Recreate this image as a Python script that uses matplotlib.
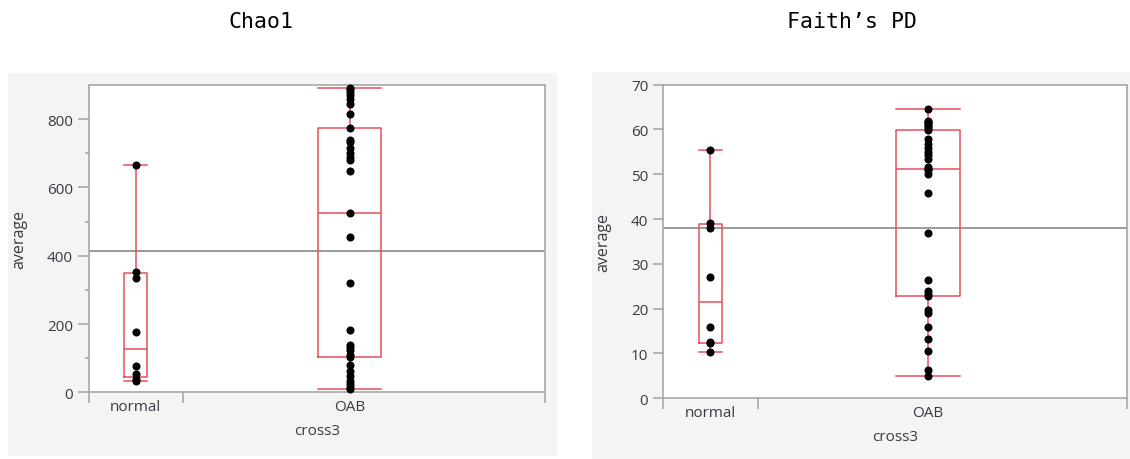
import numpy as np
import matplotlib
matplotlib.use('Agg')
import matplotlib.pyplot as plt
from matplotlib.patches import Rectangle

# 数据
groups = ['normal', 'OAB']
group_sizes = [8, 31]

chao1_normal = [665, 353, 334, 176, 76, 54, 40, 34]
chao1_oab = [892, 887, 880, 870, 858, 843, 815, 775,
             740, 733, 715, 700, 690, 680, 649,
             525,
             454, 319, 182, 140, 133, 125, 110, 102,
             80, 63, 49, 34, 24, 15, 10]
chao1_mean = 415

faith_normal = [55.5, 39.1, 38.0, 27.0, 16.0, 12.5, 12.3, 10.3]
faith_oab = [64.5, 62.0, 61.7, 61.4, 61.1, 60.8, 60.3, 59.8,
             57.9, 56.8, 55.9, 55.0, 54.2, 53.5, 51.6,
             51.2,
             51.0, 50.1, 45.8, 36.9, 26.3, 24.0, 23.3, 22.8,
             19.8, 19.1, 15.9, 13.2, 10.6, 6.3, 5.0]
faith_mean = 38.0

plt.rcParams['font.family'] = ['Open Sans', 'DejaVu Sans']

BOX_RED = '#e8505f'
FRAME = '#a8a8a8'
PANEL = '#f4f4f4'
TEXT = '#3a3a44'


def box_stats(values):
    """按 (n+1)p 分位数计算箱线图统计量"""
    v = np.asarray(values, dtype=float)
    q1, med, q3 = np.percentile(v, [25, 50, 75], method='weibull')
    iqr = q3 - q1
    lo = v[v >= q1 - 1.5 * iqr].min()
    hi = v[v <= q3 + 1.5 * iqr].max()
    return dict(med=med, q1=q1, q3=q3, whislo=lo, whishi=hi, fliers=[])


def draw_panel(ax, data, mean, ylim, major, minor, ticklen):
    edges = np.concatenate([[0], np.cumsum(group_sizes)])
    centers = [4, 22.3]
    widths = [1.95, 5.4]
    ax.axhline(mean, color='#9a9a9a', lw=1.4, zorder=1)
    stats = [box_stats(d) for d in data]
    ax.bxp(stats, positions=centers, widths=widths, capwidths=widths,
           showfliers=False, manage_ticks=False,
           boxprops=dict(color=BOX_RED, lw=1.1),
           whiskerprops=dict(color=BOX_RED, lw=1.1),
           capprops=dict(color=BOX_RED, lw=1.1),
           medianprops=dict(color=BOX_RED, lw=1.1))
    for c, d in zip(centers, data):
        ax.plot(np.full(len(d), c), d, 'o', color='black', ms=4.8, zorder=4, clip_on=False)
    ax.set_xlim(edges[0], edges[-1])
    ax.set_ylim(*ylim)
    ax.set_xticks(edges)
    ax.set_xticklabels([])
    ax.tick_params(axis='x', which='major', length=8, color=FRAME, width=1.2)
    ax.set_xticks(centers, minor=True)
    ax.set_xticklabels(groups, minor=True)
    ax.tick_params(axis='x', which='minor', length=0, pad=5, labelsize=11, labelcolor=TEXT)
    ax.set_yticks(major)
    if minor is not None:
        ax.set_yticks(minor, minor=True)
    ax.tick_params(axis='y', which='major', length=ticklen, color=FRAME, width=1.2,
                   labelsize=11, labelcolor=TEXT)
    ax.tick_params(axis='y', which='minor', length=3, color=FRAME, width=1.2)
    for s in ax.spines.values():
        s.set_color(FRAME)
        s.set_linewidth(1.2)
    ax.set_ylabel('average', fontsize=11.5, color=TEXT)
    ax.set_xlabel('cross3', fontsize=11, color=TEXT, labelpad=6)


fig = plt.figure(figsize=(11.3, 4.6), dpi=100)
fig.patches.append(Rectangle((0.0071, 0.0065), 0.4858, 0.8326, transform=fig.transFigure,
                             facecolor=PANEL, edgecolor='none', zorder=-10))
fig.patches.append(Rectangle((0.5239, 0.0), 0.4761, 0.841, transform=fig.transFigure,
                             facecolor=PANEL, edgecolor='none', zorder=-10))

ax1 = fig.add_axes([0.0788, 0.145, 0.4035, 0.668])
draw_panel(ax1, [chao1_normal, chao1_oab], chao1_mean, (0, 900),
           [0, 200, 400, 600, 800], [100, 300, 500, 700], 8)
ax1.yaxis.set_label_coords(-0.135, 0.5)

ax2 = fig.add_axes([0.5865, 0.132, 0.4106, 0.6817])
draw_panel(ax2, [faith_normal, faith_oab], faith_mean, (0, 70),
           list(range(0, 71, 10)), None, 7)
ax2.yaxis.set_label_coords(-0.11, 0.5)

fig.text(261 / 1130, 1 - 22 / 460, 'Chao1', family='DejaVu Sans Mono', fontsize=15.5,
         ha='center', va='center')
fig.text(852 / 1130, 1 - 22 / 460, 'Faith’s PD', family='DejaVu Sans Mono', fontsize=15.5,
         ha='center', va='center')

fig.savefig('out.png', dpi=100)
